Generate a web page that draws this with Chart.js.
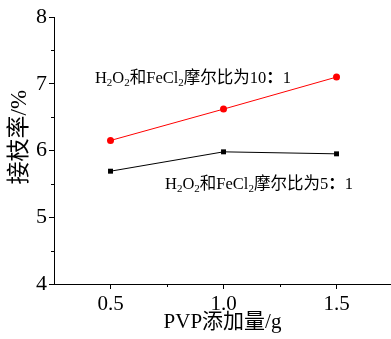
<!DOCTYPE html>
<html><head><meta charset="utf-8">
<script src="https://cdn.jsdelivr.net/npm/chart.js@4.4.0/dist/chart.umd.min.js"></script>
<style>html,body{margin:0;padding:0;background:#fff;overflow:hidden}#wrap{width:391px;height:339px}</style>
</head><body><div id="wrap"><canvas id="c" width="391" height="339"></canvas></div>
<script>
const pvp = [0.5, 1.0, 1.5];
const ratio10 = [6.15, 6.62, 7.10];
const ratio5 = [5.69, 5.98, 5.95];
const xTicks = [0.5, 1.0, 1.5];
const yTicks = [4, 5, 6, 7, 8];
const label10 = [["H",0],["2",1],["O",0],["2",1],["和FeCl",0],["2",1],["摩尔比为10",0],["：",0],["1",0]];
const label5 = [["H",0],["2",1],["O",0],["2",1],["和FeCl",0],["2",1],["摩尔比为5",0],["：",0],["1",0]];
const yTitle = '接枝率/%';

const FONT = "'Liberation Serif','Noto Sans CJK SC',serif";

const extras = {
  id: 'extras',
  afterDraw(chart) {
    const ctx = chart.ctx, xs = chart.scales.x, ys = chart.scales.y;
    ctx.save();
    ctx.strokeStyle = '#000'; ctx.lineWidth = 1;
    // minor ticks
    [0.75, 1.25].forEach(v => {
      const px = Math.round(xs.getPixelForValue(v)) + 0.5;
      ctx.beginPath(); ctx.moveTo(px, ys.bottom); ctx.lineTo(px, ys.bottom + 3); ctx.stroke();
    });
    [4.5, 5.5, 6.5, 7.5].forEach(v => {
      const py = Math.round(ys.getPixelForValue(v)) + 0.5;
      ctx.beginPath(); ctx.moveTo(xs.left, py); ctx.lineTo(xs.left - 3, py); ctx.stroke();
    });
    // annotations
    function drawLabel(segs, xv, yv) {
      let x = xs.getPixelForValue(xv);
      const y = ys.getPixelForValue(yv);
      ctx.fillStyle = '#000';
      ctx.textBaseline = 'alphabetic';
      ctx.textAlign = 'left';
      segs.forEach(([t, sub]) => {
        ctx.font = (sub ? '11px ' : '16.5px ') + FONT;
        if (t === '：') {
          ctx.font = 'bold 16.5px ' + FONT;
        }
        ctx.fillText(t, x, y + 6 + (sub ? 3 : 0));
        x += ctx.measureText(t).width;
      });
    }
    drawLabel(label10, 0.431, 7.10);
    drawLabel(label5, 0.741, 5.51);
    // y title
    ctx.save();
    ctx.translate(20, ys.getPixelForValue(6.2));
    ctx.rotate(-Math.PI / 2);
    ctx.font = '23px ' + FONT;
    ctx.textAlign = 'center'; ctx.textBaseline = 'middle';
    ctx.fillText(yTitle, 0, 0);
    ctx.restore();
    ctx.restore();
  }
};

new Chart(document.getElementById('c'), {
  type: 'line',
  data: {
    datasets: [
      { data: pvp.map((x, i) => ({x, y: ratio10[i]})), borderColor: '#ff0000', backgroundColor: '#ff0000',
        borderWidth: 1, pointStyle: 'circle', pointRadius: 3.5, pointBorderWidth: 0 },
      { data: pvp.map((x, i) => ({x, y: ratio5[i]})), borderColor: '#000', backgroundColor: '#000',
        borderWidth: 1, pointStyle: 'rect', pointRadius: 3.5, pointBorderWidth: 0 }
    ]
  },
  options: {
    responsive: false, animation: false, events: [],
    layout: { autoPadding: false, padding: { top: 17, right: 0, left: 0, bottom: 0 } },
    plugins: { legend: { display: false }, tooltip: { enabled: false } },
    scales: {
      x: {
        type: 'linear', min: 0.25, max: 1.741,
        afterBuildTicks: s => { s.ticks = xTicks.map(v => ({value: v})); },
        afterFit: s => { s.height = 55; s.paddingRight = 0; s.paddingLeft = 0; },
        grid: { drawOnChartArea: false, drawTicks: true, tickLength: 5, color: '#000' },
        border: { color: '#000', width: 1 },
        ticks: { color: '#000', font: { family: FONT, size: 21 }, padding: 3, maxRotation: 0,
          callback: v => v.toFixed(1) },
        title: { display: true, text: 'PVP添加量/g', color: '#000', font: { family: FONT, size: 21 }, padding: { top: 1 } }
      },
      y: {
        min: 4, max: 8,
        afterBuildTicks: s => { s.ticks = yTicks.map(v => ({value: v})); },
        afterFit: s => { s.width = 54; s.paddingTop = 0; s.paddingBottom = 0; },
        grid: { drawOnChartArea: false, drawTicks: true, tickLength: 5, color: '#000' },
        border: { color: '#000', width: 1 },
        ticks: { color: '#000', font: { family: FONT, size: 22 }, padding: 2 },
        title: { display: false }
      }
    }
  },
  plugins: [extras]
});
</script></body></html>
